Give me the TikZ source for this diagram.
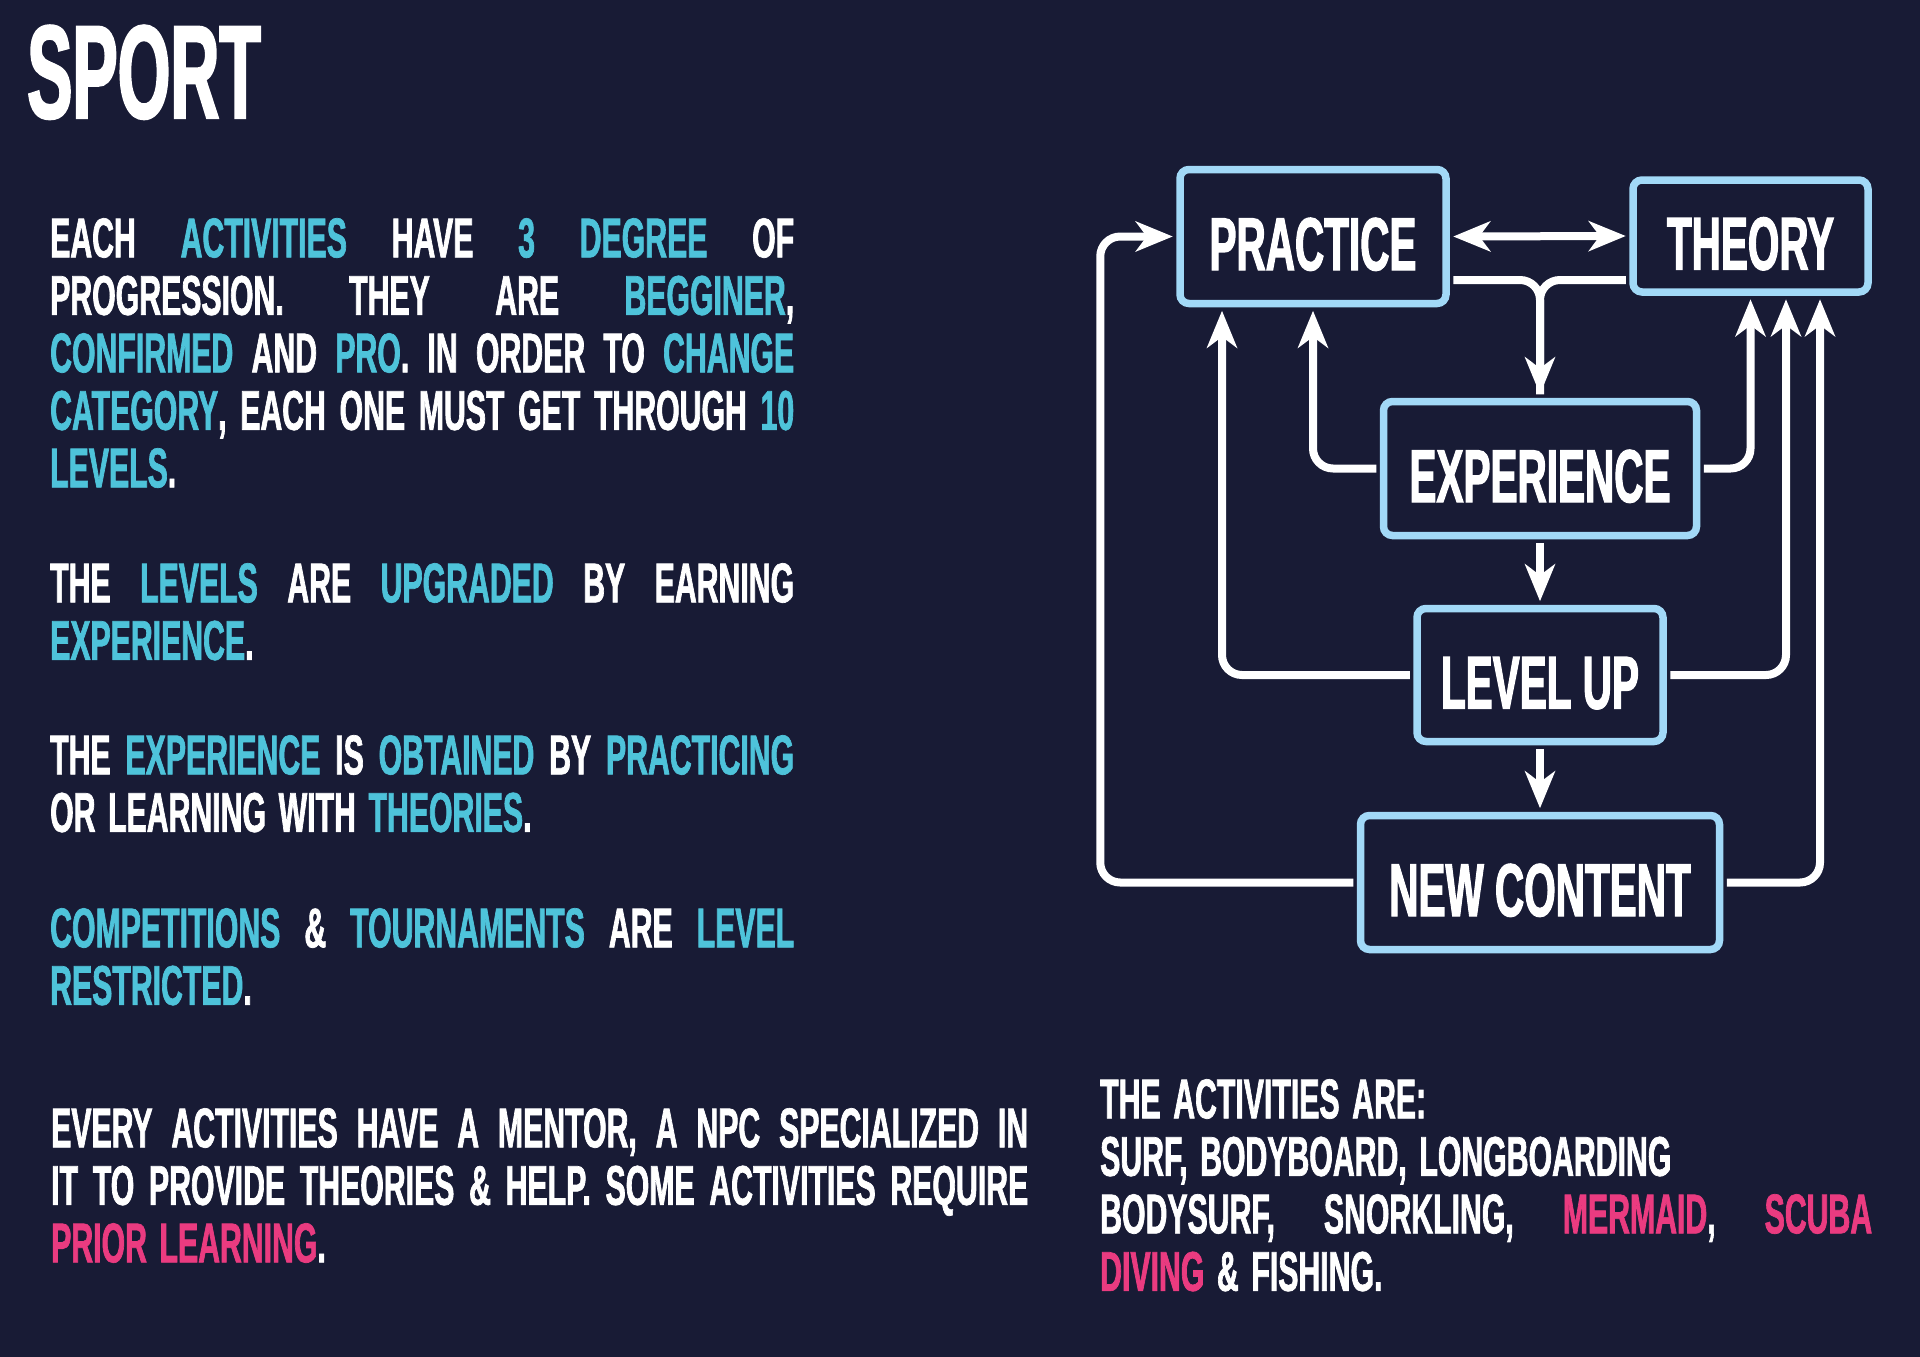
\documentclass[tikz,border=0pt]{standalone}
\usepackage{fontspec}
\usetikzlibrary{arrows.meta}
\newfontfamily\sportfont{Liberation Sans}[FakeStretch=0.54,FakeBold=1.2,WordSpace=1.5]
\newfontfamily\stagefont{Liberation Sans}[FakeStretch=0.54,FakeBold=1.5]
\newfontfamily\titlefont{Liberation Sans}[FakeStretch=0.51,FakeBold=1.5]
\definecolor{sportbg}{HTML}{181B35}
\definecolor{sportcyan}{HTML}{4EC3DA}
\definecolor{sportpink}{HTML}{EA3B80}
\definecolor{sportframe}{HTML}{A2D9F7}
\newcommand{\hi}[1]{\textcolor{sportcyan}{#1}}
\newcommand{\pk}[1]{\textcolor{sportpink}{#1}}
\newcommand{\jline}[2]{\makebox[#1pt][s]{#2}}

\begin{document}
\begin{tikzpicture}[x=1pt,y=-1pt,
    >={Stealth[length=37pt,width=30pt,inset=11pt]},
    stage/.style={draw=sportframe,line width=7.5pt,fill=sportbg,rounded corners=9pt,inner sep=0pt,
        text=white,font=\stagefont\bfseries\fontsize{75}{75}\selectfont,text height=68pt},
    flow/.style={draw=white,line width=8pt,rounded corners=20pt,->,shorten <=3.5pt,shorten >=3.5pt},
    para/.style={anchor=north west,inner sep=0pt,align=left,text=white,
        font=\sportfont\bfseries\fontsize{56}{57.5}\selectfont}]
    \fill[sportbg](0,0)rectangle(1920,1357);

    \node[anchor=north west,inner sep=0pt,text=white,font=\titlefont\bfseries\fontsize{133}{133}\selectfont](title)at(27,25){SPORT};

    \node[para](rules)at(50,218){\jline{744}{EACH \hi{ACTIVITIES} HAVE \hi{3 DEGREE} OF}\\
        \jline{744}{PROGRESSION. THEY ARE \hi{BEGGINER},}\\
        \jline{744}{\hi{CONFIRMED} AND \hi{PRO}. IN ORDER TO \hi{CHANGE}}\\
        \jline{744}{\hi{CATEGORY}, EACH ONE MUST GET THROUGH \hi{10}}\\
        \hi{LEVELS}.};
    \node[para](levels)at(50,563){\jline{744}{THE \hi{LEVELS} ARE \hi{UPGRADED} BY EARNING}\\
        \hi{EXPERIENCE}.};
    \node[para](gain)at(50,735){\jline{744}{THE \hi{EXPERIENCE} IS \hi{OBTAINED} BY \hi{PRACTICING}}\\
        OR LEARNING WITH \hi{THEORIES}.};
    \node[para](contests)at(50,908){\jline{744}{\hi{COMPETITIONS} \& \hi{TOURNAMENTS} ARE \hi{LEVEL}}\\
        \hi{RESTRICTED}.};
    \node[para](mentor)at(51,1108){\jline{977}{EVERY ACTIVITIES HAVE A MENTOR, A NPC SPECIALIZED IN}\\
        \jline{977}{IT TO PROVIDE THEORIES \& HELP. SOME ACTIVITIES REQUIRE}\\
        \pk{PRIOR LEARNING}.};
    \node[para](activities)at(1100,1079){THE ACTIVITIES ARE:\\
        SURF, BODYBOARD, LONGBOARDING\\
        \jline{772}{BODYSURF, SNORKLING, \pk{MERMAID}, \pk{SCUBA}}\\
        \pk{DIVING} \& FISHING.};

    \node[stage,minimum width=266pt,minimum height=134pt](practice)at(1313,236.5){PRACTICE};
    \node[stage,minimum width=235pt,minimum height=112pt](theory)at(1750.5,236){THEORY};
    \node[stage,minimum width=313pt,minimum height=134pt](experience)at(1540,468.5){EXPERIENCE};
    \node[stage,minimum width=246pt,minimum height=133pt](levelup)at(1540,675){LEVEL UP};
    \node[stage,minimum width=359pt,minimum height=134pt](newcontent)at(1540,882.5){NEW CONTENT};

    \draw[flow,<->](practice.east)--(theory.west);
    \draw[flow,-](practice.east|-0,280)-|(experience.north);
    \draw[flow](theory.west|-0,280)-|(experience.north);
    \draw[flow](experience.west)-|(practice.south);
    \draw[flow](experience.east)-|(theory.south);
    \draw[flow](experience.south)--(levelup.north);
    \draw[flow](levelup.west)-|([xshift=-91pt]practice.south);
    \draw[flow](levelup.east)-|([xshift=35.5pt]theory.south);
    \draw[flow](levelup.south)--(newcontent.north);
    \draw[flow](newcontent.west)-|([xshift=-76pt]practice.west)--(practice.west);
    \draw[flow](newcontent.east)-|([xshift=69.5pt]theory.south);
\end{tikzpicture}
\end{document}
